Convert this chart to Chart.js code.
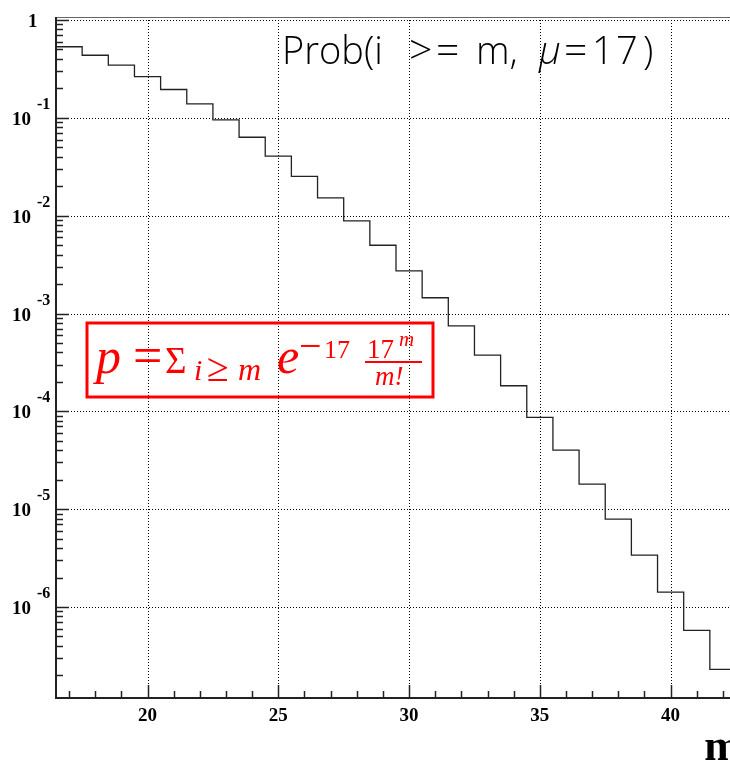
<!DOCTYPE html>
<html>
<head>
<meta charset="utf-8">
<script src="https://cdn.jsdelivr.net/npm/chart.js@4"></script>
<style>
  html, body { margin: 0; padding: 0; background: #fff; overflow: hidden; }
  #wrap { width: 760px; height: 762px; }
  canvas { display: block; }
</style>
</head>
<body>
<div id="wrap"><canvas id="probChart" width="760" height="762"></canvas></div>
<script>
// bins m = 17 .. 42, content = P(i >= m) for a Poisson with mean 17
const mValues = [17, 18, 19, 20, 21, 22, 23, 24, 25, 26, 27, 28, 29,
                 30, 31, 32, 33, 34, 35, 36, 37, 38, 39, 40, 41, 42];
const tailProb = [0.5327, 0.4363, 0.3453, 0.2639, 0.1947, 0.1386, 0.09534,
                  0.06334, 0.04067, 0.02526, 0.01518, 0.008839, 0.004987,
                  0.002729, 0.001449, 0.0007476, 0.0003748, 0.0001827,
                  0.0000867, 0.00004006, 0.00001804, 0.000007917,
                  0.00000339, 0.000001417, 0.000000578, 0.0000002305];
const xMajorTicks = [20, 25, 30, 35, 40];
const yDecadeExp = [0, -1, -2, -3, -4, -5, -6];
const xRange = [16.5, 42.5];
const yRange = [1.175e-7, 1.073];

// step outline: left edge of every bin, plus the right edge of the last one
const stepPoints = mValues.map((m, i) => ({ x: m - 0.5, y: tailProb[i] }));
stepPoints.push({ x: mValues[mValues.length - 1] + 0.5, y: tailProb[tailProb.length - 1] });

const serifBold = "'Liberation Serif', 'Times New Roman', serif";
const titleFont = "'Open Sans', 'Liberation Sans', sans-serif";

const rootStyle = {
  id: "rootStyle",
  beforeDatasetsDraw(chart) {
    const { ctx, chartArea: a, scales } = chart;
    ctx.save();
    ctx.strokeStyle = "#000";
    ctx.lineWidth = 1;
    ctx.setLineDash([1, 2]);
    xMajorTicks.forEach((v) => {
      const px = Math.round(scales.x.getPixelForValue(v)) + 0.5;
      ctx.beginPath();
      ctx.moveTo(px, a.top);
      ctx.lineTo(px, a.bottom);
      ctx.stroke();
    });
    yDecadeExp.forEach((e) => {
      const py = Math.round(scales.y.getPixelForValue(Math.pow(10, e))) + 0.5;
      ctx.beginPath();
      ctx.moveTo(a.left, py);
      ctx.lineTo(a.right, py);
      ctx.stroke();
    });
    ctx.restore();
  },
  afterDatasetsDraw(chart) {
    const { ctx, chartArea: a, scales } = chart;
    const xs = scales.x, ys = scales.y;
    ctx.save();
    ctx.setLineDash([]);

    // frame
    ctx.strokeStyle = "#666";
    ctx.lineWidth = 1;
    ctx.beginPath();
    ctx.moveTo(a.left, a.top + 0.5);
    ctx.lineTo(a.right, a.top + 0.5);
    ctx.stroke();
    ctx.strokeStyle = "#222";
    ctx.lineWidth = 2;
    ctx.beginPath();
    ctx.moveTo(a.left, a.top);
    ctx.lineTo(a.left, a.bottom);
    ctx.lineTo(a.right, a.bottom);
    ctx.stroke();

    // x ticks, pointing up into the frame
    ctx.lineWidth = 1.5;
    for (let v = Math.ceil(xRange[0]); v <= xRange[1]; v++) {
      const px = Math.round(xs.getPixelForValue(v)) + 0.5;
      const len = xMajorTicks.includes(v) ? 13 : 7;
      ctx.beginPath();
      ctx.moveTo(px, a.bottom);
      ctx.lineTo(px, a.bottom - len);
      ctx.stroke();
    }
    // y ticks, log minor at 2..9
    for (let e = -7; e <= 0; e++) {
      for (let k = 1; k <= 9; k++) {
        const v = k * Math.pow(10, e);
        if (v < yRange[0] || v > yRange[1]) continue;
        const py = Math.round(ys.getPixelForValue(v)) + 0.5;
        const len = k === 1 ? 13 : 7;
        ctx.beginPath();
        ctx.moveTo(a.left, py);
        ctx.lineTo(a.left + len, py);
        ctx.stroke();
      }
    }

    // x labels
    ctx.fillStyle = "#000";
    ctx.font = "bold 19px " + serifBold;
    ctx.textAlign = "center";
    ctx.textBaseline = "alphabetic";
    xMajorTicks.forEach((v) => {
      ctx.fillText(String(v), xs.getPixelForValue(v), a.bottom + 23);
    });

    // y labels: 1, 10^-1 ... 10^-6
    ctx.textAlign = "left";
    yDecadeExp.forEach((e) => {
      const py = ys.getPixelForValue(Math.pow(10, e));
      if (e === 0) {
        ctx.font = "bold 19px " + serifBold;
        ctx.fillText("1", 28, py + 7);
      } else {
        ctx.font = "bold 19px " + serifBold;
        ctx.fillText("10", 12, py + 7);
        ctx.font = "bold 16px " + serifBold;
        ctx.fillText(String(e), 37, py - 9);
      }
    });

    // axis title
    ctx.font = "bold 44px " + serifBold;
    ctx.textAlign = "right";
    ctx.fillText("m", 741, 760);

    // title, placed piece by piece like the TLatex spacing
    ctx.textAlign = "left";
    ctx.font = "300 38px " + titleFont;
    ctx.fillText("Prob(i", 282, 64);
    ctx.font = "300 41px " + titleFont;
    ctx.fillText(">", 409, 64);
    ctx.fillText("=", 436, 64);
    ctx.font = "300 38px " + titleFont;
    ctx.fillText("m,", 476, 64);
    ctx.font = "italic 300 38px " + titleFont;
    ctx.fillText("\u03bc", 539, 64);
    ctx.font = "300 41px " + titleFont;
    ctx.fillText("=", 564, 64);
    ctx.font = "300 38px " + titleFont;
    ctx.fillText("1", 592, 64);
    ctx.fillText("7", 616, 64);
    ctx.fillText(")", 643, 64);

    // formula box
    const red = "#ff0000";
    ctx.strokeStyle = red;
    ctx.fillStyle = red;
    ctx.lineWidth = 3;
    ctx.strokeRect(87, 323, 346, 74);
    const it = (size) => "italic " + size + "px 'Liberation Serif', serif";
    const up = (size) => size + "px 'Liberation Serif', serif";
    ctx.font = it(50); ctx.fillText("p", 96, 373);
    ctx.font = up(52); ctx.fillText("=", 133, 373);
    ctx.font = up(37); ctx.fillText("\u03a3", 165, 373);
    ctx.font = it(30); ctx.fillText("i", 194, 380);
    ctx.font = up(40); ctx.fillText("\u2265", 207, 381);
    ctx.font = it(32); ctx.fillText("m", 238, 380);
    ctx.font = it(50); ctx.fillText("e", 277, 373);
    ctx.font = up(40); ctx.fillText("\u2212", 299, 359);
    ctx.font = up(26); ctx.fillText("17", 324, 358);
    ctx.font = up(27); ctx.fillText("17", 367, 358);
    ctx.font = it(21); ctx.fillText("m", 399, 346);
    ctx.fillRect(365, 361, 57, 2);
    ctx.font = it(27); ctx.fillText("m!", 375, 385);

    ctx.restore();
  },
};

new Chart(document.getElementById("probChart"), {
  type: "line",
  data: {
    datasets: [
      {
        label: "Prob(i >= m)",
        data: stepPoints,
        stepped: "before",
        borderColor: "#222",
        borderWidth: 1.3,
        pointRadius: 0,
        fill: false,
      },
    ],
  },
  options: {
    responsive: false,
    animation: false,
    layout: { padding: { left: 56, top: 17, right: 24, bottom: 64 } },
    plugins: { legend: { display: false }, tooltip: { enabled: false } },
    scales: {
      x: {
        type: "linear",
        min: xRange[0],
        max: xRange[1],
        bounds: "data",
        grid: { display: false },
        border: { display: false },
        ticks: { display: false },
        afterFit: (s) => { s.height = 0; },
      },
      y: {
        type: "logarithmic",
        min: yRange[0],
        max: yRange[1],
        bounds: "data",
        grid: { display: false },
        border: { display: false },
        ticks: { display: false },
        afterFit: (s) => { s.width = 0; },
      },
    },
  },
  plugins: [rootStyle],
});
</script>
</body>
</html>
